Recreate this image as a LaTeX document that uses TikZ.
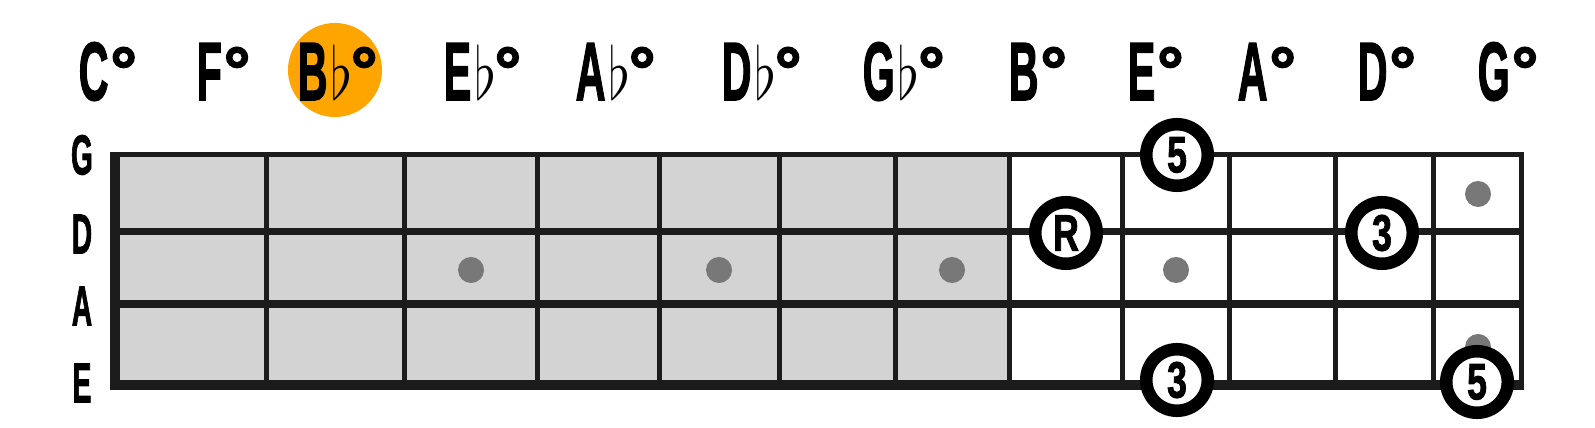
\documentclass[tikz,border=0pt]{standalone}
\usepackage{fontspec}
\usepackage{graphicx}
\usepackage{tikz}
\newfontfamily\boardfont[FakeBold=2]{Liberation Sans Bold}
\definecolor{fretline}  {RGB}{28,  28,  28}
\definecolor{neckgray}  {RGB}{211, 211, 211}
\definecolor{inlaygray} {RGB}{120, 120, 120}
\definecolor{rootorange}{RGB}{255, 165,   0}
\newcommand{\squeeze}[1]{\scalebox{0.5}[1]{#1}}
\newcommand{\degmark}{{\fontsize{19}{19}\selectfont\kern0.5pt\raisebox{1.8pt}{°}}}
\newcommand{\flatmark}{{\fontsize{20.74}{21}\selectfont\kern0.8pt\scalebox{0.8}[1]{$\flat$}\kern-1pt}}
\newcommand{\natlbl}[1]{\squeeze{#1}\degmark}
\newcommand{\fltlbl}[1]{\squeeze{#1}\flatmark\degmark}
\tikzset{
  notelbl/.style={
    anchor=base west, inner sep=0pt,
    font=\boardfont\fontsize{23.5}{24}\selectfont
  },
  strlbl/.style={
    inner sep=0pt, font=\boardfont\fontsize{16}{16}\selectfont
  },
  rootmark/.style={
    circle, fill=rootorange, minimum size=0.94cm, inner sep=0pt
  },
  fretwire/.style={fretline, line width=0.05cm},
  inlay/.style={
    circle, fill=inlaygray, minimum size=0.26cm, inner sep=0pt
  },
  tone/.style={
    circle, draw=black, fill=white, line width=0.125cm,
    minimum size=0.615cm, inner sep=0pt,
    font=\boardfont\fontsize{14.5}{15}\selectfont
  },
}
\begin{document}
\begin{tikzpicture}[x=0.01cm, y=-0.01cm]
\useasboundingbox (0,0) rectangle (1595,428);

% ── Diminished chord names ────────────────────────────────────────────────────
\node[rootmark] (bbroot) at (335,70) {};
\node[notelbl] (cdim)  at (78,100)   {\natlbl{C}};
\node[notelbl] (fdim)  at (196,100)  {\natlbl{F}};
\node[notelbl] (bbdim) at (297,100)  {\fltlbl{B}};
\node[notelbl] (ebdim) at (443,100)  {\fltlbl{E}};
\node[notelbl] (abdim) at (575,100)  {\fltlbl{A}};
\node[notelbl] (dbdim) at (721,100)  {\fltlbl{D}};
\node[notelbl] (gbdim) at (862,100)  {\fltlbl{G}};
\node[notelbl] (bdim)  at (1008,100) {\natlbl{B}};
\node[notelbl] (edim)  at (1127,100) {\natlbl{E}};
\node[notelbl] (adim)  at (1237,100) {\natlbl{A}};
\node[notelbl] (ddim)  at (1357,100) {\natlbl{D}};
\node[notelbl] (gdim)  at (1477,100) {\natlbl{G}};

% ── String names ──────────────────────────────────────────────────────────────
\node[strlbl] (gstr) at (82,155) {\squeeze{G}};
\node[strlbl] (dstr) at (82,234) {\squeeze{D}};
\node[strlbl] (astr) at (82,306) {\squeeze{A}};
\node[strlbl] (estr) at (82,383) {\squeeze{E}};

% ── Neck (shaded part) ────────────────────────────────────────────────────────
\fill[neckgray] (115,154.5) rectangle (1009,385);

% ── Frets ─────────────────────────────────────────────────────────────────────
\draw[fretline, line width=0.1cm] (115,152) -- (115,390);
\draw[fretwire] (266,152)  -- (266,390);
\draw[fretwire] (404,152)  -- (404,390);
\draw[fretwire] (537,152)  -- (537,390);
\draw[fretwire] (659,152)  -- (659,390);
\draw[fretwire] (779,152)  -- (779,390);
\draw[fretwire] (895,152)  -- (895,390);
\draw[fretwire] (1009,152) -- (1009,390);
\draw[fretwire] (1122,152) -- (1122,390);
\draw[fretwire] (1229,152) -- (1229,390);
\draw[fretwire] (1335,152) -- (1335,390);
\draw[fretwire] (1433,152) -- (1433,390);
\draw[fretwire] (1521.5,152) -- (1521.5,390);

% ── Strings ───────────────────────────────────────────────────────────────────
\draw[fretline, line width=0.05cm] (110,154.5) -- (1524,154.5);
\draw[fretline, line width=0.07cm] (110,231.5) -- (1524,231.5);
\draw[fretline, line width=0.08cm] (110,304)   -- (1524,304);
\draw[fretline, line width=0.10cm] (110,385)   -- (1524,385);

% ── Inlay dots ────────────────────────────────────────────────────────────────
\node[inlay] (dot3)  at (471,270)  {};
\node[inlay] (dot5)  at (719,270)  {};
\node[inlay] (dot7)  at (952,270)  {};
\node[inlay] (dot9)  at (1176,270) {};
\node[inlay] (dot12a) at (1478,194) {};
\node[inlay] (dot12b) at (1478,347) {};

% ── Chord tones ───────────────────────────────────────────────────────────────
\node[tone] (root)   at (1066,233) {\scalebox{0.7}[1]{R}};
\node[tone] (fifthg) at (1177,155) {\scalebox{0.7}[1]{5}};
\node[tone] (thirdd) at (1382,233) {\scalebox{0.7}[1]{3}};
\node[tone] (thirde) at (1177,380) {\scalebox{0.7}[1]{3}};
\node[tone] (fifthe) at (1477,382) {\scalebox{0.7}[1]{5}};

\end{tikzpicture}
\end{document}
